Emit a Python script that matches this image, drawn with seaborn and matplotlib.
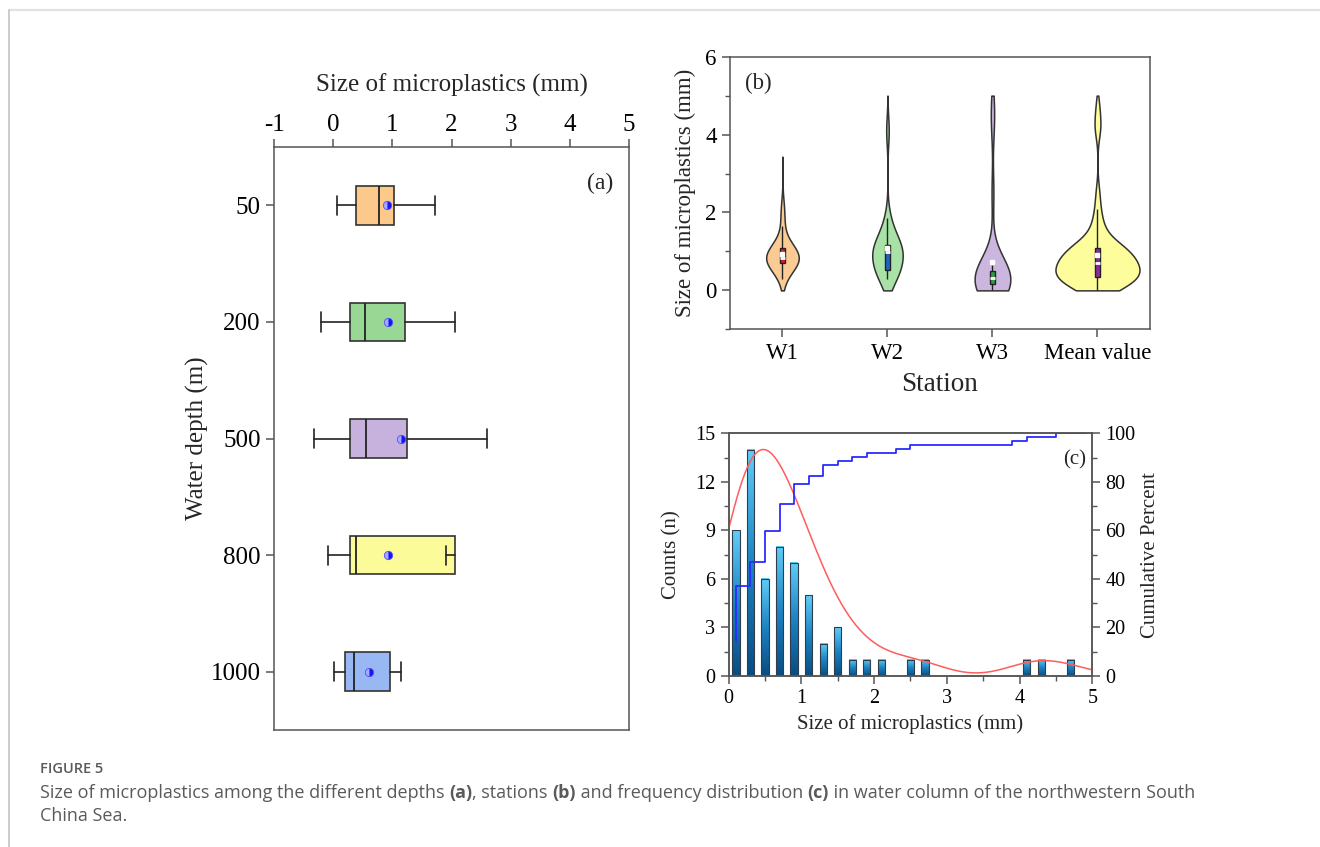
import numpy as np
import pandas as pd
import seaborn as sns
import matplotlib.pyplot as plt
from matplotlib.ticker import MultipleLocator
from matplotlib.colors import LinearSegmentedColormap
from matplotlib.lines import Line2D

# (a) box statistics by water depth (mm); whiskers as drawn in the figure
depths = ['50', '200', '500', '800', '1000']
depth_q1 = [0.39, 0.29, 0.28, 0.29, 0.20]
depth_med = [0.78, 0.53, 0.56, 0.38, 0.36]
depth_q3 = [1.03, 1.21, 1.25, 2.06, 0.96]
depth_mean = [0.91, 0.93, 1.14, 0.92, 0.60]
depth_whislo = [0.07, -0.21, -0.32, -0.08, 0.01]
depth_whishi = [1.72, 2.06, 2.60, 1.90, 1.15]
depth_colors = ['#fdc98b', '#98d894', '#c6b2dc', '#fbfb9a', '#97b8f3']

# (b) particle sizes per station (mm)
w1_sizes = [0.28, 0.55, 0.62, 0.68, 0.70, 0.72, 0.76, 0.80, 0.82, 0.85,
            0.90, 0.95, 1.05, 1.10, 1.12, 1.15, 1.65, 2.10]
w2_sizes = [0.30, 0.35, 0.42, 0.48, 0.50, 0.53, 0.70, 0.82, 0.90, 0.95,
            1.00, 1.05, 1.10, 1.12, 1.15, 1.20, 1.45, 1.55, 1.85, 4.10]
w3_sizes = [0.02, 0.05, 0.08, 0.10, 0.12, 0.15, 0.16, 0.18, 0.20, 0.24,
            0.28, 0.30, 0.31, 0.35, 0.38, 0.42, 0.46, 0.48, 0.52, 0.58,
            0.65, 2.50, 4.30, 4.70]
stations = ['W1', 'W2', 'W3', 'Mean value']
violin_colors = ['#fccb93', '#a8e2a6', '#cab6df', '#fdfd9c']
inner_box_colors = ['#e3152b', '#1f62c4', '#2f9e3e', '#8e2a9e']
violin_widths = [0.31, 0.29, 0.34, 0.80]
violin_bw = [1.25, 0.8, 0.8, 0.7]
violin_cut = [4.6, 6, 6, 6]

# (c) frequency distribution, 0.2 mm bins
size_bins = [0.1, 0.3, 0.5, 0.7, 0.9, 1.1, 1.3, 1.5, 1.7, 1.9, 2.1, 2.3, 2.5,
             2.7, 2.9, 3.1, 3.3, 3.5, 3.7, 3.9, 4.1, 4.3, 4.5, 4.7, 4.9]
bin_counts = [9, 14, 6, 8, 7, 5, 2, 3, 1, 1, 1, 0, 1,
              1, 0, 0, 0, 0, 0, 0, 1, 1, 0, 1, 0]

sns.set_style('ticks')
plt.rcParams['font.family'] = ['Liberation Serif', 'DejaVu Serif']
plt.rcParams['axes.unicode_minus'] = False
plt.rcParams['axes.edgecolor'] = '#555555'
plt.rcParams['axes.linewidth'] = 1.1
plt.rcParams['xtick.color'] = '#555555'
plt.rcParams['ytick.color'] = '#555555'
plt.rcParams['xtick.labelcolor'] = 'black'
plt.rcParams['ytick.labelcolor'] = 'black'

fig = plt.figure(figsize=(13.2, 8.47), dpi=100)

# ---------------- (a) ----------------
ax1 = fig.add_axes([0.2076, 0.1381, 0.2689, 0.6883])
stats = []
for i, d in enumerate(depths):
    stats.append(dict(label=d, q1=depth_q1[i], med=depth_med[i], q3=depth_q3[i],
                      mean=depth_mean[i], whislo=depth_whislo[i],
                      whishi=depth_whishi[i], fliers=[]))
bp = ax1.bxp(stats, positions=range(len(depths)), widths=0.33,
             orientation='horizontal', patch_artist=True, showmeans=True,
             showfliers=False, capwidths=0.165,
             boxprops=dict(edgecolor='#333333', linewidth=1.2),
             medianprops=dict(color='#222222', linewidth=1.3),
             whiskerprops=dict(color='#222222', linewidth=1.2),
             capprops=dict(color='#222222', linewidth=1.2),
             meanprops=dict(marker='o', markersize=6, markerfacecolor='#1515ee',
                            markerfacecoloralt='#a8a8ff', fillstyle='right',
                            markeredgecolor='#5050ff', markeredgewidth=0.6))
for patch, c in zip(bp['boxes'], depth_colors):
    patch.set_facecolor(c)
ax1.set_xlim(-1, 5)
ax1.set_ylim(4.5, -0.5)
ax1.set_yticks(range(len(depths)), depths)
ax1.set_xticks(range(-1, 6))
ax1.xaxis.tick_top()
ax1.xaxis.set_label_position('top')
ax1.tick_params(axis='both', direction='out', length=6, width=1.1, labelsize=18)
ax1.tick_params(axis='x', top=True, bottom=False, labeltop=True, labelbottom=False, pad=2)
ax1.tick_params(axis='y', right=False)
ax1.set_xlabel('Size of microplastics (mm)', fontsize=18, labelpad=16)
ax1.set_ylabel('Water depth (m)', fontsize=18, labelpad=1)
ax1.text(0.918, 0.938, '(a)', transform=ax1.transAxes, fontsize=17,
         ha='center', va='center')

# ---------------- (b) ----------------
df_b = pd.DataFrame({
    'station': ['W1'] * len(w1_sizes) + ['W2'] * len(w2_sizes) + ['W3'] * len(w3_sizes)
               + ['Mean value'] * (len(w1_sizes) + len(w2_sizes) + len(w3_sizes)),
    'size': w1_sizes + w2_sizes + w3_sizes + w1_sizes + w2_sizes + w3_sizes,
})
ax2 = fig.add_axes([0.5530, 0.6112, 0.3182, 0.3219])
for s, c, w, bw, ct in zip(stations, violin_colors, violin_widths, violin_bw, violin_cut):
    sns.violinplot(data=df_b[df_b['station'] == s], x='station', y='size',
                   order=stations, color=c, inner=None, cut=ct, bw_adjust=bw,
                   gridsize=500, density_norm='width', width=w, linewidth=1.1,
                   linecolor='#333333', saturation=1, ax=ax2)
# sizes are bounded to the 0-5 mm microplastic range
for coll in ax2.collections:
    for p in coll.get_paths():
        p.vertices[:, 1] = np.clip(p.vertices[:, 1], 0, 5)
sns.boxplot(data=df_b, x='station', y='size', hue='station', order=stations,
            hue_order=stations, palette=inner_box_colors, legend=False,
            width=0.055, showcaps=False, showfliers=False, showmeans=True,
            linecolor='#222222', linewidth=1.0, saturation=1,
            medianprops=dict(color='white', linewidth=2),
            meanprops=dict(marker='s', markersize=2.5, markerfacecolor='white',
                           markeredgecolor='white'),
            ax=ax2)
ax2.set_xlim(-0.5, 3.5)
ax2.set_ylim(-1, 6)
ax2.set_yticks([0, 2, 4, 6])
ax2.yaxis.set_minor_locator(MultipleLocator(1))
ax2.tick_params(axis='both', which='major', direction='out', length=6, width=1.1, labelsize=16.5)
ax2.tick_params(axis='y', which='minor', direction='out', length=3.5, width=1.0)
ax2.tick_params(top=False, right=False, which='both')
ax2.set_xlabel('Station', fontsize=19.5, labelpad=6)
ax2.set_ylabel('Size of microplastics (mm)', fontsize=16.5, labelpad=7)
ax2.text(0.036, 0.9, '(b)', transform=ax2.transAxes, fontsize=16.5,
         ha='left', va='center')

# ---------------- (c) ----------------
df_c = pd.DataFrame({'size': size_bins, 'count': bin_counts})
ax3 = fig.add_axes([0.5520, 0.2019, 0.2755, 0.2865])
sns.histplot(data=df_c, x='size', weights='count', binwidth=0.2, binrange=(0, 5),
             shrink=0.5, color='#2a8fd0', edgecolor='#2f3e4e', linewidth=0.8,
             alpha=1, ax=ax3)
bar_cmap = LinearSegmentedColormap.from_list('bar', ['#0a4c80', '#1d83c2', '#5fcdf7'])
grad = np.linspace(0, 1, 64).reshape(-1, 1)
for patch in list(ax3.patches):
    h = patch.get_height()
    if h <= 0:
        continue
    x0 = patch.get_x()
    ax3.imshow(grad, extent=[x0, x0 + patch.get_width(), 0, h], origin='lower',
               cmap=bar_cmap, aspect='auto', zorder=1.5)
    patch.set_facecolor('none')
    patch.set_zorder(1.6)

# smoothed distribution curve (gaussian kernel, peak matched to the tallest bar)
fit_x = np.linspace(0, 5, 400)
centers = np.array(size_bins)
weights = np.array(bin_counts)
kern = np.exp(-(fit_x[:, None] - centers[None, :]) ** 2 / (2 * 0.38 ** 2))
fit_y = (kern * weights).sum(axis=1)
fit_y = fit_y / fit_y.max() * weights.max()
sns.lineplot(x=fit_x, y=fit_y, color='#ff5c5c', linewidth=1.1, ax=ax3, zorder=3)

ax3.set_xlim(0, 5)
ax3.set_ylim(0, 15)
ax3.set_yticks(range(0, 16, 3))
ax3.yaxis.set_minor_locator(MultipleLocator(1.5))
ax3.xaxis.set_minor_locator(MultipleLocator(0.5))
ax3.tick_params(axis='both', which='major', direction='out', length=6, width=1.1, labelsize=14.5)
ax3.tick_params(axis='both', which='minor', direction='out', length=3.5, width=1.0)
ax3.tick_params(top=False, right=False, which='both')
ax3.set_xlabel('Size of microplastics (mm)', fontsize=15, labelpad=4)
ax3.set_ylabel('Counts (n)', fontsize=15, labelpad=10)

ax3r = ax3.twinx()
cum_pct = np.cumsum(bin_counts) / np.sum(bin_counts) * 100
sns.lineplot(x=size_bins, y=cum_pct, drawstyle='steps-pre', color='#2b2bff',
             linewidth=1.3, ax=ax3r)
ax3r.set_ylim(0, 100)
ax3r.set_yticks(range(0, 101, 20))
ax3r.yaxis.set_minor_locator(MultipleLocator(10))
ax3r.tick_params(axis='y', which='major', direction='out', length=6, width=1.1, labelsize=14.5)
ax3r.tick_params(axis='y', which='minor', direction='out', length=3.5, width=1.0)
ax3r.tick_params(top=False, which='both')
ax3r.set_ylabel('Cumulative Percent', fontsize=15, labelpad=4)
ax3r.text(0.952, 0.89, '(c)', transform=ax3r.transAxes, fontsize=15,
          ha='center', va='center')

# ---------------- page frame and caption ----------------
fig.add_artist(Line2D([9 / 1320, 1], [1 - 10 / 847] * 2, color='#e2e2e2',
                      lw=1.6, transform=fig.transFigure))
fig.add_artist(Line2D([9 / 1320] * 2, [0, 1 - 10 / 847], color='#c4c4c4',
                      lw=1.2, transform=fig.transFigure))

cap_kw = dict(family=['Open Sans', 'DejaVu Sans'], color='#5a5a5a', va='center')
fig.text(40 / 1320, 1 - 769 / 847, 'FIGURE 5', fontsize=10.5,
         fontweight='semibold', **cap_kw)


def rich_line(x, y, parts, size):
    renderer = fig.canvas.get_renderer()
    for s, bold in parts:
        t = fig.text(x, y, s, fontsize=size,
                     fontweight='bold' if bold else 'normal', **cap_kw)
        bb = t.get_window_extent(renderer)
        x += bb.width / fig.bbox.width


rich_line(40 / 1320, 1 - 793 / 847, [
    ('Size of microplastics among the different depths ', False), ('(a)', True),
    (', stations ', False), ('(b)', True),
    (' and frequency distribution ', False), ('(c)', True),
    (' in water column of the northwestern South', False)], 13)
fig.text(40 / 1320, 1 - 816 / 847, 'China Sea.', fontsize=13, **cap_kw)

fig.savefig('out.png', dpi=100)
